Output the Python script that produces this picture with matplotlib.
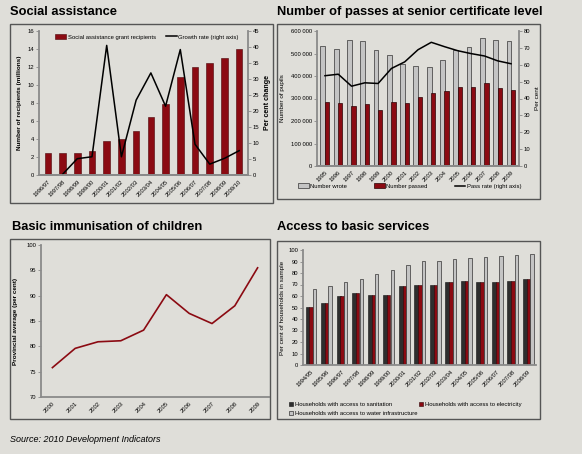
import matplotlib.pyplot as plt
import matplotlib.patches as mpatches
from matplotlib.lines import Line2D
from matplotlib.ticker import FuncFormatter
import numpy as np

# Social assistance
sa_years = ['1996/97', '1997/98', '1998/99', '1999/00', '2000/01', '2001/02', '2002/03',
            '2003/04', '2004/05', '2005/06', '2006/07', '2007/08', '2008/09', '2009/10']
sa_recipients = [2.4, 2.4, 2.5, 2.7, 3.8, 4.0, 4.9, 6.5, 7.9, 10.9, 12.05, 12.45, 13.05, 14.05]
sa_growth = [None, 0.2, 5.1, 5.7, 40.5, 5.7, 23.4, 31.9, 21.5, 39.2, 9.6, 3.4, 5.2, 7.6]

# Senior certificate passes
sc_years = ['1995', '1996', '1997', '1998', '1999', '2000', '2001', '2002',
            '2003', '2004', '2005', '2006', '2007', '2008', '2009']
sc_wrote = [533000, 518000, 562000, 556000, 514000, 492000, 452000, 446000,
            441000, 470000, 516000, 530000, 567000, 558000, 555000]
sc_passed = [285000, 280000, 266000, 274000, 250000, 284000, 278000, 308000,
             323000, 332000, 350000, 353000, 369000, 346000, 336000]
sc_rate = [53.5, 54.4, 47.3, 49.3, 48.9, 57.8, 61.7, 68.9, 73.3, 70.7, 68.3, 66.6, 65.2, 62.3, 60.6]

# Immunisation
im_years = ['2000', '2001', '2002', '2003', '2004', '2005', '2006', '2007', '2008', '2009']
im_avg = [75.8, 79.6, 80.9, 81.1, 83.2, 90.2, 86.5, 84.5, 88.0, 95.5]

# Access to basic services
bs_years = ['1994/95', '1995/96', '1996/97', '1997/98', '1998/99', '1999/00', '2000/01', '2001/02',
            '2002/03', '2003/04', '2004/05', '2005/06', '2006/07', '2007/08', '2008/09']
bs_sanitation = [50.6, 53.5, 59.6, 62.2, 61.3, 60.8, 68.3, 69.8, 69.5, 71.8, 72.7, 71.8, 71.8, 73.0, 74.4]
bs_electricity = [50.6, 53.5, 59.6, 62.2, 61.3, 60.8, 68.3, 69.8, 69.5, 71.8, 72.7, 71.8, 71.8, 73.0, 74.4]
bs_water = [66.3, 68.3, 71.8, 75.0, 78.8, 82.8, 86.6, 90.1, 90.7, 91.9, 93.3, 93.6, 95.1, 95.9, 96.5]

W, H = 582, 454
BG = '#dfded9'
RED = '#8b0a12'
DARK = '#2e2e2e'
LIGHT = '#c4c4c4'
SPINE = '#8a8a8a'
FS = 4.2

plt.rcParams['font.family'] = ['Liberation Sans', 'DejaVu Sans']

fig = plt.figure(figsize=(W / 100, H / 100), dpi=100, facecolor=BG)


def box(l, t, r, b):
    return [l / W, 1 - b / H, (r - l) / W, (b - t) / H]


def frame(l, t, r, b):
    fig.patches.append(mpatches.Rectangle((l / W, 1 - b / H), (r - l) / W, (b - t) / H,
                                          transform=fig.transFigure, fill=False,
                                          edgecolor='#555555', lw=1.0))


def style(ax, right=False):
    ax.set_facecolor('none')
    for s in ['top', 'right', 'left', 'bottom']:
        ax.spines[s].set_visible(False)
    ax.spines['bottom'].set_visible(True)
    ax.spines['bottom'].set_color(SPINE)
    ax.spines['bottom'].set_linewidth(1.3)
    side = 'right' if right else 'left'
    ax.spines[side].set_visible(True)
    ax.spines[side].set_color(SPINE)
    ax.spines[side].set_linewidth(1.3)
    ax.tick_params(labelsize=FS, length=2, width=0.6, color=SPINE, pad=1.5)


def xlabels(ax, labels):
    ax.set_xticks(range(len(labels)))
    ax.set_xticklabels(labels, rotation=45, ha='right', rotation_mode='anchor')
    ax.tick_params(axis='x', length=0, pad=3)


for f in [(10, 24, 273, 203), (277, 24, 540, 199), (10, 239, 270, 419), (277, 241, 540, 419)]:
    frame(*f)

title_kw = dict(fontsize=9.3, fontweight='bold', va='center', ha='left')
fig.text(10 / W, 1 - 12 / H, 'Social assistance', **title_kw)
fig.text(277 / W, 1 - 12 / H, 'Number of passes at senior certificate level', **title_kw)
fig.text(12 / W, 1 - 227 / H, 'Basic immunisation of children', **title_kw)
fig.text(277 / W, 1 - 227 / H, 'Access to basic services', **title_kw)
fig.text(10 / W, 1 - 440 / H, 'Source: 2010 Development Indicators', fontsize=6.5,
         style='italic', va='center', ha='left')

# --- Social assistance
ax1 = fig.add_axes(box(39, 31, 248, 175))
style(ax1)
x = np.arange(len(sa_years))
ax1.bar(x, sa_recipients, width=0.45, color=RED, edgecolor='#4a0508', lw=0.4)
ax1.set_ylim(0, 16)
ax1.set_yticks(range(0, 17, 2))
ax1.set_xlim(-0.6, len(sa_years) - 0.4)
xlabels(ax1, sa_years)
ax1.set_ylabel('Number of recipients (millions)', fontsize=FS + 0.4, fontweight='bold', labelpad=4)
ax1b = ax1.twinx()
style(ax1b, right=True)
ax1b.plot(x[1:], sa_growth[1:], color='black', lw=1.1)
ax1b.set_ylim(0, 45)
ax1b.set_yticks(range(0, 46, 5))
ax1b.set_ylabel('Per cent change', fontsize=FS + 0.9, fontweight='bold', labelpad=3)
ax1.legend([mpatches.Patch(facecolor=RED, edgecolor='#4a0508', lw=0.4),
            Line2D([], [], color='black', lw=1.1)],
           ['Social assistance grant recipients', 'Growth rate (right axis)'],
           loc='upper left', bbox_to_anchor=(50 / W, 1 - 29 / H), bbox_transform=fig.transFigure,
           ncol=2, frameon=False, fontsize=FS, handlelength=1.8, handleheight=0.8,
           handletextpad=0.3, columnspacing=1.8)

# --- Senior certificate passes
ax2 = fig.add_axes(box(317, 31, 519, 166))
style(ax2)
x = np.arange(len(sc_years))
ax2.bar(x - 0.16, sc_wrote, width=0.36, color=LIGHT, edgecolor='#333333', lw=0.5)
ax2.bar(x + 0.15, sc_passed, width=0.32, color=RED, edgecolor='#2a0204', lw=0.5)
ax2.set_ylim(0, 600000)
ax2.set_yticks(range(0, 600001, 100000))
ax2.yaxis.set_major_formatter(FuncFormatter(lambda v, p: f'{int(v):,}'.replace(',', ' ')))
ax2.set_xlim(-0.6, len(sc_years) - 0.4)
xlabels(ax2, sc_years)
ax2.set_ylabel('Number of pupils', fontsize=FS + 0.4, labelpad=4)
ax2b = ax2.twinx()
style(ax2b, right=True)
ax2b.plot(x, sc_rate, color='black', lw=1.1)
ax2b.set_ylim(0, 80)
ax2b.set_yticks(range(0, 81, 10))
ax2b.set_ylabel('Per cent', fontsize=FS + 0.4, labelpad=3)
ax2.legend([mpatches.Patch(facecolor=LIGHT, edgecolor='#333333', lw=0.5),
            mpatches.Patch(facecolor=RED, edgecolor='#2a0204', lw=0.5),
            Line2D([], [], color='black', lw=1.1)],
           ['Number wrote', 'Number passed', 'Pass rate (right axis)'],
           loc='center left', bbox_to_anchor=(293 / W, 1 - 186 / H), bbox_transform=fig.transFigure,
           ncol=3, frameon=False, fontsize=FS, handlelength=1.8, handleheight=0.8,
           handletextpad=0.3, columnspacing=4.6)

# --- Immunisation
ax3 = fig.add_axes(box(41, 245, 269, 397))
style(ax3)
x = np.arange(len(im_years))
ax3.plot(x, im_avg, color=RED, lw=1.2)
ax3.set_ylim(70, 100)
ax3.set_yticks(range(70, 101, 5))
ax3.set_xlim(-0.5, len(im_years) - 0.5)
xlabels(ax3, im_years)
ax3.set_ylabel('Provincial average (per cent)', fontsize=FS + 0.4, fontweight='bold', labelpad=6)

# --- Access to basic services
ax4 = fig.add_axes(box(303, 250, 536, 365))
style(ax4)
x = np.arange(len(bs_years))
ax4.bar(x - 0.21, bs_sanitation, width=0.25, color=DARK, edgecolor='#111111', lw=0.4)
ax4.bar(x + 0.02, bs_electricity, width=0.22, color=RED, edgecolor='#2a0204', lw=0.4)
ax4.bar(x + 0.25, bs_water, width=0.22, color=LIGHT, edgecolor='#333333', lw=0.5)
ax4.set_ylim(0, 100)
ax4.set_yticks(range(0, 101, 10))
ax4.set_xlim(-0.5, len(bs_years) - 0.5)
xlabels(ax4, bs_years)
ax4.set_ylabel('Per cent of households in sample', fontsize=FS + 0.4, labelpad=2.5)
ax4.legend([mpatches.Patch(facecolor=DARK, edgecolor='#111111', lw=0.4),
            mpatches.Patch(facecolor=LIGHT, edgecolor='#333333', lw=0.5),
            mpatches.Patch(facecolor=RED, edgecolor='#2a0204', lw=0.4)],
           ['Households with access to sanitation', 'Households with access to water infrastructure',
            'Households with access to electricity'],
           loc='upper left', bbox_to_anchor=(284 / W, 1 - 397 / H), bbox_transform=fig.transFigure,
           ncol=2, frameon=False, fontsize=FS, handlelength=0.7, handleheight=0.7,
           handletextpad=0.3, columnspacing=0.3, labelspacing=0.6)

fig.savefig('out.png', dpi=100, facecolor=BG)
